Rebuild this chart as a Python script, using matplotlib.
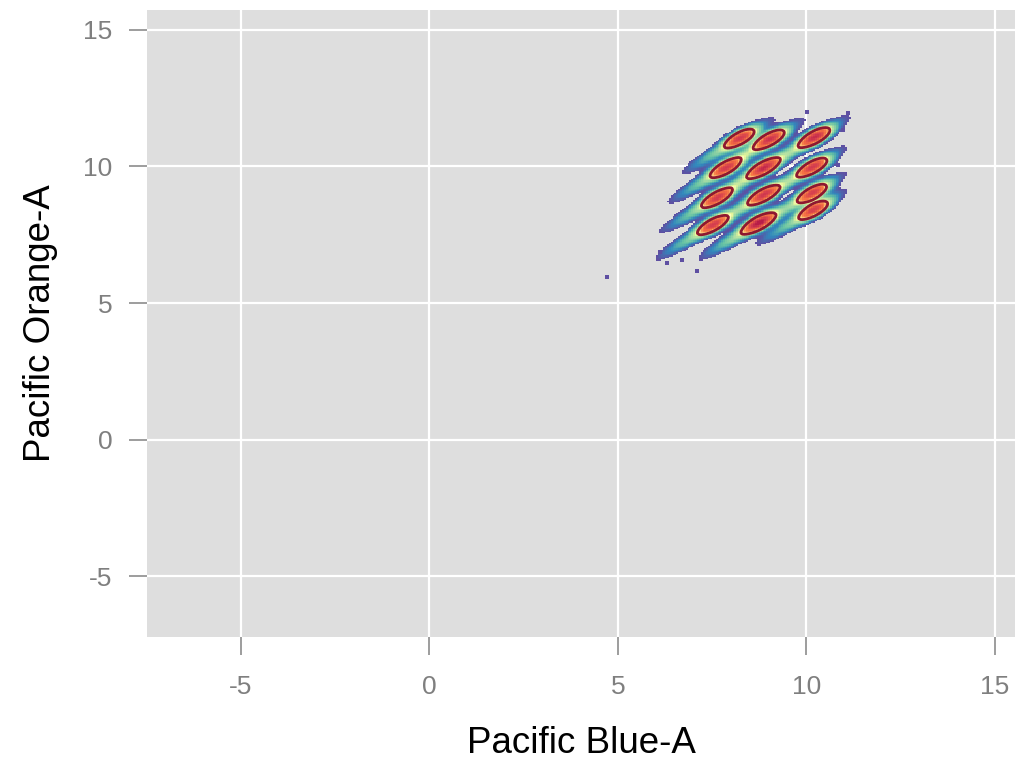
import numpy as np
import matplotlib
matplotlib.use("Agg")
import matplotlib.pyplot as plt

plt.rcParams["axes.unicode_minus"] = False

# Bead populations (channel values, arcsinh-transformed)
pop_x = [8.24, 7.86, 7.63, 7.52, 9.03, 8.87, 8.87, 8.74, 10.23, 10.17, 10.17, 10.20]
pop_y = [11.04, 9.95, 8.85, 7.86, 11.00, 9.95, 8.96, 7.93, 11.08, 9.98, 9.03, 8.41]
pop_weight = [0.95, 0.9, 0.9, 0.9, 1.0, 1.05, 0.95, 1.2, 1.05, 0.95, 0.9, 0.9]

# Isolated single events
single_x = [4.71, 6.11, 6.30, 6.70, 7.10, 10.01, 11.10, 10.97, 10.84]
single_y = [5.95, 6.87, 6.47, 6.58, 6.17, 12.00, 11.96, 11.34, 10.05]

x_ticks = [-5, 0, 5, 10, 15]
y_ticks = [-5, 0, 5, 10, 15]

# Shape of each population: tilted core, a trailing smear toward low values
# and a faint wide halo
angle = np.deg2rad(40)
core_sd = (0.3, 0.13)
tail_sd = (0.65, 0.115)
tail_shift = 0.5
tail_weight = 0.14
halo_sd = (0.95, 0.16)
halo_shift = 0.35
halo_weight = 0.035

# Density -> colour position along the palette
dens_breaks = [0.015, 0.04, 0.08, 0.14, 0.22, 0.36, 0.55, 0.9, 1.3]
col_breaks = [0.0, 0.08, 0.16, 0.24, 0.32, 0.56, 0.76, 0.87, 0.95]
contour_level = 0.36

gx = np.arange(5.5, 11.8, 0.05)
gy = np.arange(5.8, 12.5, 0.05)
X, Y = np.meshgrid(gx, gy)
ca, sa = np.cos(angle), np.sin(angle)


def gauss(cx, cy, sd):
    u = (X - cx) * ca + (Y - cy) * sa
    v = -(X - cx) * sa + (Y - cy) * ca
    return np.exp(-0.5 * ((u / sd[0]) ** 2 + (v / sd[1]) ** 2))


D = np.zeros_like(X)
for cx, cy, w in zip(pop_x, pop_y, pop_weight):
    D += w * gauss(cx, cy, core_sd)
    D += w * tail_weight * gauss(cx - tail_shift * ca, cy - tail_shift * sa, tail_sd)
    D += w * halo_weight * gauss(cx - halo_shift * ca, cy - halo_shift * sa, halo_sd)

C = np.interp(D, dens_breaks, col_breaks)
C = np.ma.masked_where(D < dens_breaks[0], C)

fig = plt.figure(figsize=(10.15, 7.64), dpi=100)
ax = fig.add_axes([147 / 1015, 127 / 764, 868 / 1015, 627 / 764])
ax.set_facecolor("#DEDEDE")
for s in ax.spines.values():
    s.set_visible(False)

ax.imshow(C, extent=(gx[0], gx[-1], gy[0], gy[-1]), origin="lower",
          cmap="Spectral_r", vmin=0, vmax=1,
          interpolation="nearest", aspect="auto", zorder=2)
ax.contour(X, Y, D, levels=[contour_level], colors="#8E1830", linewidths=2.0,
           zorder=3)
ax.scatter(single_x, single_y, s=10, marker="s", color="#5E4FA2",
           linewidths=0, zorder=3)

ax.set_xlim(-7.49, 15.53)
ax.set_ylim(-7.23, 15.73)
ax.set_xticks(x_ticks)
ax.set_yticks(y_ticks)
ax.grid(True, color="white", linewidth=1.6)
ax.set_axisbelow(True)
ax.tick_params(length=13, width=1.2, color="#8C8C8C", labelcolor="#7F7F7F",
               labelsize=19)
ax.tick_params(axis="x", pad=14)
ax.tick_params(axis="y", pad=12)

ax.set_xlabel("Pacific Blue-A", fontsize=26.5, labelpad=20, family="Liberation Sans")
ax.set_ylabel("Pacific Orange-A", fontsize=26.5, labelpad=18, family="Liberation Sans")
for lab in ax.get_xticklabels() + ax.get_yticklabels():
    lab.set_family("Liberation Sans")

fig.savefig("out.png", dpi=100)
